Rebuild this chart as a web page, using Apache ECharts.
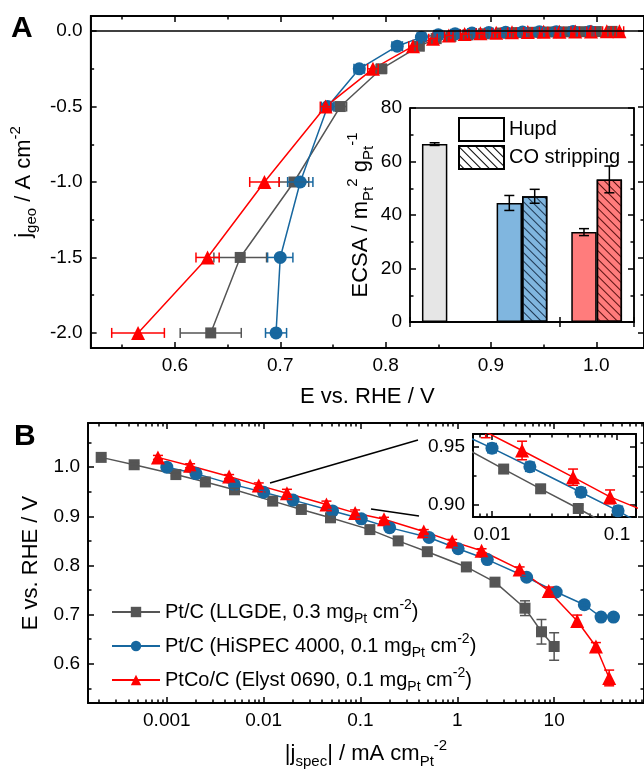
<!DOCTYPE html>
<html>
<head>
<meta charset="utf-8">
<script src="https://cdn.jsdelivr.net/npm/echarts@6/dist/echarts.min.js"></script>
<style>
  html, body { margin: 0; padding: 0; background: #fff; }
  #chart { width: 644px; height: 773px; }
</style>
</head>
<body>
<div id="chart"></div>
<script>
// ---- panel A : polarisation curves, [E / V, j / A cm-2, xerr / V]
const aGray = [[0.634,-2.0,0.029],[0.662,-1.5,0.025],[0.713,-1.0,0.014],[0.757,-0.5,0.006],[0.796,-0.25,0.005],[0.832,-0.1,0.004],
  [0.848,-0.05,0.004],[0.862,-0.035,0.004],[0.878,-0.025,0.004],[0.893,-0.018,0.004],[0.91,-0.013,0.004],[0.925,-0.01,0.004],
  [0.94,-0.008,0.004],[0.955,-0.006,0.004],[0.97,-0.005,0.004],[0.985,-0.004,0.004],[1.0,-0.003,0.004],[1.015,-0.002,0.004]];
const aBlue = [[0.696,-2.0,0.01],[0.700,-1.5,0.012],[0.719,-1.0,0.012],[0.745,-0.5,0.006],[0.775,-0.25,0.005],[0.811,-0.1,0.005],
  [0.834,-0.04,0.004],[0.85,-0.025,0.004],[0.866,-0.018,0.004],[0.882,-0.013,0.004],[0.898,-0.01,0.004],[0.914,-0.008,0.004],
  [0.93,-0.006,0.004],[0.946,-0.005,0.004],[0.962,-0.004,0.004],[0.978,-0.003,0.004],[0.994,-0.002,0.004]];
const aRed = [[0.565,-2.0,0.025],[0.631,-1.5,0.011],[0.685,-1.0,0.014],[0.743,-0.5,0.005],[0.788,-0.25,0.005],[0.826,-0.1,0.004],
  [0.845,-0.05,0.004],[0.86,-0.03,0.004],[0.875,-0.02,0.004],[0.89,-0.015,0.004],[0.905,-0.011,0.004],[0.92,-0.008,0.004],
  [0.935,-0.006,0.004],[0.95,-0.005,0.004],[0.965,-0.004,0.004],[0.98,-0.003,0.004],[0.995,-0.002,0.004],[1.01,-0.001,0.004],[1.022,-0.001,0.004]];

// inset A : ECSA / m2 gPt-1
const barCats = ['Pt/C LLGDE', 'Pt/C HiSPEC 4000', 'PtCo/C Elyst 0690'];
const hupd = [66.5, 44.5, 33.6];
const hupdErr = [0.5, 2.8, 1.3];
const coStrip = [null, 47.0, 53.3];
const coErr = [null, 2.6, 5.0];

// ---- panel B : Tafel, [|j_spec| / mA cm-2, E / V, yerr / V]
const bGray = [[0.00021,1.02,0.003],[0.00046,1.005,0.003],[0.00124,0.985,0.003],[0.0025,0.97,0.003],[0.005,0.954,0.003],
  [0.0124,0.931,0.003],[0.0245,0.914,0.003],[0.049,0.897,0.003],[0.125,0.873,0.003],[0.245,0.85,0.003],[0.49,0.828,0.003],
  [1.24,0.797,0.003],[2.45,0.766,0.004],[5.0,0.713,0.015],[7.4,0.665,0.025],[10.0,0.635,0.028]];
const bBlue = [[0.001,1.0,0.003],[0.002,0.987,0.003],[0.005,0.964,0.003],[0.01,0.949,0.004],[0.0201,0.933,0.004],
  [0.0515,0.911,0.004],[0.102,0.895,0.004],[0.2,0.877,0.003],[0.51,0.857,0.003],[1.02,0.834,0.003],[2.04,0.812,0.003],
  [5.2,0.776,0.004],[10.5,0.746,0.005],[20.5,0.72,0.005],[30.5,0.695,0.006],[41,0.695,0.006]];
const bRed = [[0.00081,1.02,0.004],[0.00174,1.003,0.004],[0.0044,0.981,0.004],[0.0089,0.963,0.005],[0.0174,0.947,0.008],
  [0.0445,0.924,0.007],[0.088,0.907,0.006],[0.175,0.894,0.004],[0.45,0.869,0.004],[0.885,0.849,0.004],[1.78,0.83,0.004],
  [4.4,0.792,0.005],[8.8,0.748,0.008],[17.3,0.687,0.012],[27,0.635,0.008],[37,0.571,0.016]];

// tick labels
const aXTicks = [0.6, 0.7, 0.8, 0.9, 1.0];
const aXMinor = [0.55, 0.65, 0.75, 0.85, 0.95, 1.05];
const aYTicks = [-2.0, -1.5, -1.0, -0.5, 0.0];
const aYMinor = [-1.75, -1.25, -0.75, -0.25];
const bXTicks = [0.001, 0.01, 0.1, 1, 10];
const bXDecades = [0.0001, 0.001, 0.01, 0.1, 1, 10];
const bYTicks = [0.6, 0.7, 0.8, 0.9, 1.0];
const bYMinor = [0.55, 0.65, 0.75, 0.85, 0.95, 1.05];
const insXTicks = [0.01, 0.1];
const insXDecades = [0.001, 0.01, 0.1];
const insYTicks = [0.90, 0.95];
const insYMinor = [0.925];

const names = {
  LLGDE: 'Pt/C (LLGDE, 0.3 mg{sub|Pt} cm{sup|-2})',
  HiSPEC: 'Pt/C (HiSPEC 4000, 0.1 mg{sub|Pt} cm{sup|-2})',
  Elyst: 'PtCo/C (Elyst 0690, 0.1 mg{sub|Pt} cm{sup|-2})'
};
const colors = { LLGDE: '#555555', HiSPEC: '#17679f', Elyst: '#ff0000' };
const symbols = { LLGDE: 'rect', HiSPEC: 'circle', Elyst: 'triangle' };
const symSize = { LLGDE: 11, HiSPEC: 13, Elyst: 14 };

const font = 'Liberation Sans, Arial, sans-serif';
const rich = {
  sub: { fontSize: 15, verticalAlign: 'bottom', lineHeight: 31, fontFamily: font, color: '#000' },
  sup: { fontSize: 15, verticalAlign: 'top', lineHeight: 31, fontFamily: font, color: '#000' }
};

const lg = v => Math.log10(v);
const minorLog = decs => {
  const out = [];
  decs.forEach(d => { [2,3,4,5,6,7,8,9].forEach(k => out.push(lg(k * d))); });
  return out;
};
const logLabel = v => String(+Math.pow(10, v).toPrecision(1));

const xAxes = [], yAxes = [];

function valAxis(grid, pos, min, max, vals, len, fmt, extra) {
  return Object.assign({
    type: 'value', gridIndex: grid, position: pos, min: min, max: max,
    axisLine: { show: true, onZero: false, lineStyle: { color: '#000', width: 1.5 } },
    splitLine: { show: false },
    axisTick: { show: true, inside: true, length: len, customValues: vals, lineStyle: { color: '#000', width: 1.5 } },
    axisLabel: fmt ? { show: true, customValues: vals, formatter: fmt, margin: 8, color: '#000', fontSize: 19, fontFamily: font } : { show: false },
    axisPointer: { show: false }
  }, extra || {});
}

function frame(grid, xr, yr, xMaj, xMin, yMaj, yMin, xFmt, yFmt, xExtra, yExtra) {
  const xi = xAxes.length;
  xAxes.push(valAxis(grid, 'bottom', xr[0], xr[1], xMaj, 6, xFmt, xExtra));
  xAxes.push(valAxis(grid, 'bottom', xr[0], xr[1], xMin, 3.5, null));
  xAxes.push(valAxis(grid, 'top', xr[0], xr[1], xMaj, 6, null));
  xAxes.push(valAxis(grid, 'top', xr[0], xr[1], xMin, 3.5, null));
  const yi = yAxes.length;
  yAxes.push(valAxis(grid, 'left', yr[0], yr[1], yMaj, 6, yFmt, yExtra));
  yAxes.push(valAxis(grid, 'left', yr[0], yr[1], yMin, 3.5, null));
  yAxes.push(valAxis(grid, 'right', yr[0], yr[1], yMaj, 6, null));
  yAxes.push(valAxis(grid, 'right', yr[0], yr[1], yMin, 3.5, null));
  return [xi, yi];
}

const nameStyle = { fontSize: 22, fontFamily: font, color: '#000', rich: rich };

// panel A main
const [axA, ayA] = frame(0, [0.52, 1.0453], [-2.1, 0.1], aXTicks, aXMinor, aYTicks, aYMinor,
  v => v.toFixed(1), v => v.toFixed(1),
  { name: 'E vs. RHE / V', nameLocation: 'middle', nameGap: 38, nameTextStyle: nameStyle },
  { name: 'j{sub|geo} / A cm{sup|-2}', nameLocation: 'middle', nameGap: 48, nameTextStyle: nameStyle });

// panel B main
const [axB, ayB] = frame(2, [-3.814, 1.928], [0.52, 1.09], bXTicks.map(lg), minorLog(bXDecades), bYTicks, bYMinor,
  logLabel, v => v.toFixed(1),
  { name: '|j{sub|spec}| / mA cm{sub|Pt}{sup|-2}', nameLocation: 'middle', nameGap: 35, nameTextStyle: nameStyle },
  { name: 'E vs. RHE / V', nameLocation: 'middle', nameGap: 46, nameTextStyle: nameStyle });

// panel B inset
const [axI, ayI] = frame(3, [-2.152, -0.848], [0.8897, 0.9612], insXTicks.map(lg), minorLog(insXDecades), insYTicks, insYMinor,
  logLabel, v => v.toFixed(2));

// panel A inset (bars)
const axBar = xAxes.length;
['bottom', 'top'].forEach(p => xAxes.push({
  type: 'category', gridIndex: 1, position: p, data: barCats,
  axisLine: { show: true, lineStyle: { color: '#000', width: 1.5 } },
  axisTick: { show: true, inside: true, length: 5, lineStyle: { color: '#000', width: 1.5 } },
  axisLabel: { show: false }, splitLine: { show: false }
}));
const ayBar = yAxes.length;
['left', 'right'].forEach(p => yAxes.push({
  type: 'value', gridIndex: 1, position: p, min: 0, max: 80, interval: 20,
  axisLine: { show: true, lineStyle: { color: '#000', width: 1.5 } },
  axisTick: { show: true, inside: true, length: 6, lineStyle: { color: '#000', width: 1.5 } },
  minorTick: { show: true, splitNumber: 2, length: 3.5, lineStyle: { color: '#000', width: 1.5 } },
  axisLabel: p === 'left' ? { show: true, margin: 8, color: '#000', fontSize: 19, fontFamily: font } : { show: false },
  splitLine: { show: false }, minorSplitLine: { show: false },
  name: p === 'left' ? 'ECSA / m{sub|Pt}{sup|2} g{sub|Pt}{sup|-1}' : '',
  nameLocation: 'middle', nameGap: 34, nameTextStyle: nameStyle
}));

function lineSeries(key, rows, xi, yi, conv, showName) {
  return {
    type: 'line', name: showName ? key : 'x-' + key, xAxisIndex: xi, yAxisIndex: yi,
    data: rows.map(conv), symbol: symbols[key], symbolSize: symSize[key], showSymbol: true,
    lineStyle: { color: colors[key], width: 1.5 }, itemStyle: { color: colors[key] },
    clip: true, z: 3, silent: true, animation: false
  };
}

function errSeries(key, rows, xi, yi, conv, horizontal) {
  return {
    type: 'custom', xAxisIndex: xi, yAxisIndex: yi, clip: true, z: 4, silent: true,
    data: rows.map(conv),
    encode: { x: 0, y: 1 },
    renderItem: (params, api) => {
      const x = api.value(0), y = api.value(1), e = api.value(2);
      const a = horizontal ? api.coord([x - e, y]) : api.coord([x, y - e]);
      const b = horizontal ? api.coord([x + e, y]) : api.coord([x, y + e]);
      const st = { stroke: colors[key], lineWidth: 1.5 };
      const c = 5;
      const cap = p => horizontal
        ? { type: 'line', shape: { x1: p[0], y1: p[1] - c, x2: p[0], y2: p[1] + c }, style: st }
        : { type: 'line', shape: { x1: p[0] - c, y1: p[1], x2: p[0] + c, y2: p[1] }, style: st };
      return { type: 'group', children: [
        { type: 'line', shape: { x1: a[0], y1: a[1], x2: b[0], y2: b[1] }, style: st }, cap(a), cap(b)
      ] };
    }
  };
}

const series = [];
const keys = ['LLGDE', 'HiSPEC', 'Elyst'];
const aSets = { LLGDE: aGray, HiSPEC: aBlue, Elyst: aRed };
const bSets = { LLGDE: bGray, HiSPEC: bBlue, Elyst: bRed };

// B main first so legend takes its look
keys.forEach(k => {
  series.push(lineSeries(k, bSets[k], axB, ayB, r => [lg(r[0]), r[1]], true));
  series.push(errSeries(k, bSets[k], axB, ayB, r => [lg(r[0]), r[1], r[2]], false));
});
keys.forEach(k => {
  series.push(lineSeries(k, bSets[k], axI, ayI, r => [lg(r[0]), r[1]], true));
  series.push(errSeries(k, bSets[k], axI, ayI, r => [lg(r[0]), r[1], r[2]], false));
});
keys.forEach(k => {
  series.push(lineSeries(k, aSets[k], axA, ayA, r => [r[0], r[1]], false));
  series.push(errSeries(k, aSets[k], axA, ayA, r => r, true));
});
// zero line in A
series[series.length - 2].markLine = {
  silent: true, symbol: 'none', label: { show: false }, animation: false,
  lineStyle: { color: '#000', type: 'solid', width: 1.5 }, data: [{ yAxis: 0 }]
};

const barColors = ['#e6e6e6', '#80b6df', '#ff7c7c'];
const hatchColors = ['#000', '#1d3550', '#5a1010'];
const hatch = c => ({ symbol: 'rect', symbolSize: 1, dashArrayX: [1, 0], dashArrayY: [1, 4.6], rotation: Math.PI / 4, color: c });

series.push({
  type: 'bar', name: 'Hupd', xAxisIndex: axBar, yAxisIndex: ayBar, barWidth: '34%', barGap: '0%',
  itemStyle: { color: '#fff', borderColor: '#000', borderWidth: 1.5 },
  data: hupd.map((v, i) => ({ value: v, itemStyle: { color: barColors[i] } })), silent: true, z: 3
});
series.push({
  type: 'bar', name: 'CO stripping', xAxisIndex: axBar, yAxisIndex: ayBar, barWidth: '34%', barGap: '0%',
  itemStyle: { color: '#fff', borderColor: '#000', borderWidth: 1.5, decal: hatch('#000') },
  data: coStrip.map((v, i) => ({ value: v == null ? '-' : v, itemStyle: { color: barColors[i], decal: hatch(hatchColors[i]) } })),
  silent: true, z: 3
});
const barErrRows = [];
hupd.forEach((v, i) => barErrRows.push([i, v, hupdErr[i], -1]));
coStrip.forEach((v, i) => { if (v != null) barErrRows.push([i, v, coErr[i], 1]); });
series.push({
  type: 'custom', xAxisIndex: axBar, yAxisIndex: ayBar, z: 5, silent: true, data: barErrRows,
  encode: { x: 0, y: 1 },
  renderItem: (params, api) => {
    const i = api.value(0), v = api.value(1), e = api.value(2), s = api.value(3);
    const band = api.size([1, 0])[0];
    const dx = s * band * 0.17;
    const a = api.coord([i, v - e]), b = api.coord([i, v + e]);
    const x = a[0] + dx, st = { stroke: '#000', lineWidth: 1.5 };
    return { type: 'group', children: [
      { type: 'line', shape: { x1: x, y1: a[1], x2: x, y2: b[1] }, style: st },
      { type: 'line', shape: { x1: x - 5, y1: a[1], x2: x + 5, y2: a[1] }, style: st },
      { type: 'line', shape: { x1: x - 5, y1: b[1], x2: x + 5, y2: b[1] }, style: st }
    ] };
  }
});

const chart = echarts.init(document.getElementById('chart'), null, { renderer: 'canvas' });
chart.setOption({
  animation: false,
  backgroundColor: '#fff',
  grid: [
    { left: 88, top: 16, width: 557, height: 332, show: true, borderColor: '#000', borderWidth: 1.5, backgroundColor: 'transparent' },
    { left: 410, top: 108, width: 224, height: 214, show: true, borderColor: '#000', borderWidth: 1.5, backgroundColor: '#fff' },
    { left: 88, top: 423, width: 557, height: 280, show: true, borderColor: '#000', borderWidth: 1.5, backgroundColor: 'transparent' },
    { left: 473, top: 434, width: 163, height: 83, show: true, borderColor: '#000', borderWidth: 1.5, backgroundColor: '#fff' }
  ],
  xAxis: xAxes,
  yAxis: yAxes,
  legend: [
    {
      data: ['Hupd', 'CO stripping'], left: 453, top: 112, orient: 'vertical', itemWidth: 45, itemHeight: 23, itemGap: 3,
      icon: 'rect', selectedMode: false,
      textStyle: { fontSize: 20, fontFamily: font, color: '#000' }
    },
    {
      data: keys, left: 106, top: 593, orient: 'vertical', itemWidth: 48, itemHeight: 13, itemGap: 6, selectedMode: false,
      formatter: n => names[n],
      textStyle: { fontSize: 20, fontFamily: font, color: '#000', lineHeight: 28, rich: {
        sub: { fontSize: 14, verticalAlign: 'bottom', lineHeight: 28, fontFamily: font, color: '#000' },
        sup: { fontSize: 14, verticalAlign: 'top', lineHeight: 28, fontFamily: font, color: '#000' }
      } }
    }
  ],
  graphic: [
    { type: 'text', left: 11, top: 14, style: { text: 'A', font: 'bold 30px ' + font, fill: '#000' } },
    { type: 'text', left: 14, top: 422, style: { text: 'B', font: 'bold 30px ' + font, fill: '#000' } },
    { type: 'line', shape: { x1: 270, y1: 483, x2: 418, y2: 440 }, style: { stroke: '#000', lineWidth: 1.5 } },
    { type: 'line', shape: { x1: 371, y1: 509, x2: 419, y2: 516 }, style: { stroke: '#000', lineWidth: 1.5 } }
  ],
  series: series
});
</script>
</body>
</html>
